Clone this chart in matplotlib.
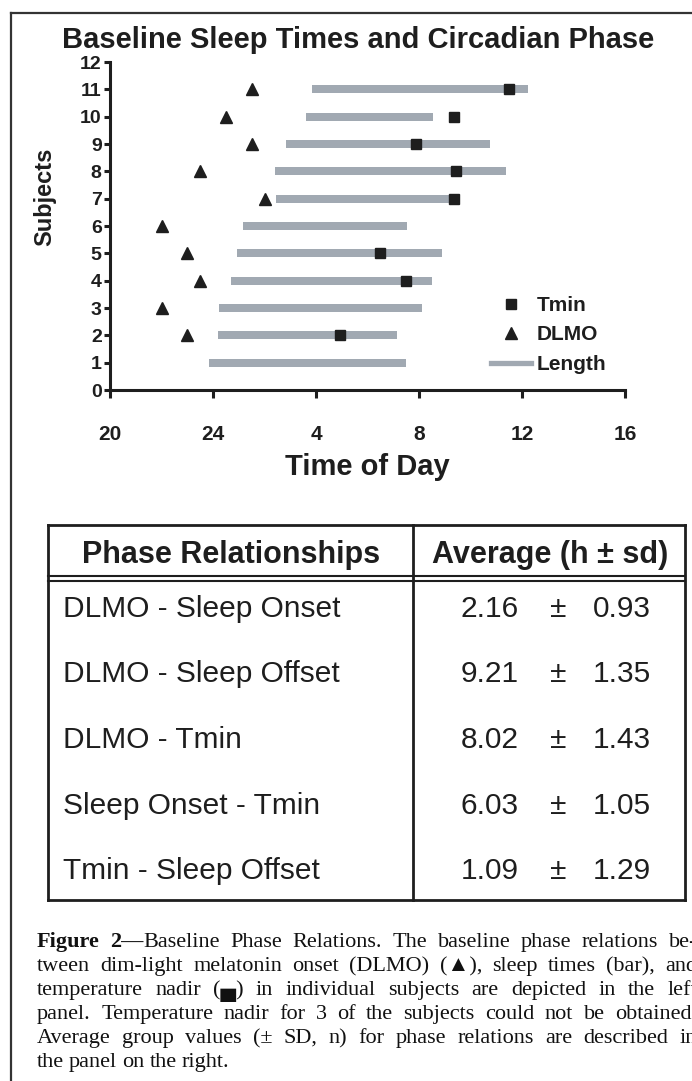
import numpy as np
import matplotlib.pyplot as plt
from matplotlib.lines import Line2D

plt.rcParams['font.family'] = ['Liberation Sans', 'DejaVu Sans']

# 数据 (小时, 24 = 午夜, 28 = 凌晨4点)
subjects = np.arange(1, 12)
dlmo = np.array([np.nan, 23.0, 22.0, 23.5, 23.0, 22.0, 26.0, 23.5, 25.5, 24.5, 25.5])
sleep_on = np.array([23.85, 24.2, 24.25, 24.7, 24.95, 25.17, 26.45, 26.4, 26.83, 27.6, 27.84])
sleep_off = np.array([31.5, 31.13, 32.1, 32.52, 32.9, 31.55, 33.45, 35.38, 34.76, 32.54, 36.23])
tmin = np.array([np.nan, 28.93, np.nan, 31.48, 30.47, np.nan, 33.36, 33.44, 31.88, 33.36, 35.5])

xticks = [20, 24, 28, 32, 36, 40]
xticklabels = ['20', '24', '4', '8', '12', '16']

# 表格数据
phase_names = ['DLMO - Sleep Onset', 'DLMO - Sleep Offset', 'DLMO - Tmin',
               'Sleep Onset - Tmin', 'Tmin - Sleep Offset']
phase_mean = ['2.16', '9.21', '8.02', '6.03', '1.09']
phase_sd = ['0.93', '1.35', '1.43', '1.05', '1.29']

caption_lines = [
    'Figure 2—Baseline Phase Relations. The baseline phase relations be-',
    'tween dim-light melatonin onset (DLMO) (▲), sleep times (bar), and',
    'temperature nadir (▄) in individual subjects are depicted in the left',
    'panel. Temperature nadir for 3 of the subjects could not be obtained.',
    'Average group values (± SD, n) for phase relations are described in',
    'the panel on the right.',
]

W, H = 692, 1081
dark = '#1e1e1e'
grey = '#a1a9b2'


def fx(x):
    return x / W


def fy(y):
    return 1 - y / H


fig = plt.figure(figsize=(W / 100, H / 100), dpi=100)

# 外框
fig.add_artist(Line2D([fx(11), fx(11)], [fy(13), 0], color='#333333', lw=1.6))
fig.add_artist(Line2D([fx(11), 1], [fy(13), fy(13)], color='#333333', lw=1.6))

# 图
ax = fig.add_axes([fx(110), fy(390), 515 / W, 328 / H])
ax.barh(subjects, sleep_off - sleep_on, left=sleep_on, height=0.3, color=grey, zorder=2)
ax.plot(dlmo, subjects, '^', color=dark, ms=9, ls='none', zorder=3)
ax.plot(tmin, subjects, 's', color=dark, ms=7.5, ls='none', zorder=3)

ax.set_xlim(20, 40)
ax.set_ylim(0, 12)
ax.set_xticks(xticks, xticklabels)
ax.set_yticks(range(13))
for s in ['top', 'right']:
    ax.spines[s].set_visible(False)
for s in ['left', 'bottom']:
    ax.spines[s].set_linewidth(2.2)
    ax.spines[s].set_color(dark)
ax.tick_params(axis='x', length=6, width=2.2, color=dark, pad=19, labelsize=15)
ax.tick_params(axis='y', length=4.5, width=2.2, color=dark, pad=1.5, labelsize=14)
for lab in ax.get_xticklabels() + ax.get_yticklabels():
    lab.set_fontweight('bold')
    lab.set_color(dark)

ax.set_xlabel('Time of Day', fontsize=21, fontweight='bold', color=dark)
ax.xaxis.set_label_coords(0.5, (390 - 467) / 328)
ax.xaxis.label.set_va('center')
ax.set_ylabel('Subjects', fontsize=17, fontweight='bold', color=dark)
ax.yaxis.set_label_coords((45 - 110) / 515, (390 - 197) / 328)
ax.yaxis.label.set_va('center')

fig.text(fx(358), fy(40), 'Baseline Sleep Times and Circadian Phase', ha='center', va='center',
         fontsize=21, fontweight='bold', color=dark)

handles = [Line2D([], [], marker='s', ls='none', color=dark, ms=7.5),
           Line2D([], [], marker='^', ls='none', color=dark, ms=9),
           Line2D([], [], color=grey, lw=3.8)]
leg = ax.legend(handles, ['Tmin', 'DLMO', 'Length'], loc='upper left',
                bbox_to_anchor=(fx(491), fy(296)), bbox_transform=fig.transFigure,
                frameon=False, borderpad=0, borderaxespad=0, handlelength=1.9,
                handletextpad=0.3, labelspacing=0.5, prop={'size': 15, 'weight': 'bold'})
for t in leg.get_texts():
    t.set_color(dark)

# 表格
tl, tr, tt, tb, tm = 48, 685, 525, 900, 413
for x0, y0, x1, y1 in [(tl, tt, tr, tt), (tl, tb, tr, tb), (tl, tt, tl, tb),
                       (tr, tt, tr, tb), (tm, tt, tm, tb)]:
    fig.add_artist(Line2D([fx(x0), fx(x1)], [fy(y0), fy(y1)], color=dark, lw=2.0))
for yy in [576, 580.5]:
    fig.add_artist(Line2D([fx(tl), fx(tr)], [fy(yy), fy(yy)], color=dark, lw=1.5))

fig.text(fx(231), fy(563), 'Phase Relationships', ha='center', va='baseline',
         fontsize=22, fontweight='bold', color=dark)
fig.text(fx(550), fy(563), 'Average (h ± sd)', ha='center', va='baseline',
         fontsize=22, fontweight='bold', color=dark)
for i, name in enumerate(phase_names):
    yb = 607 + i * 65.5 + 10
    fig.text(fx(63), fy(yb), name, ha='left', va='baseline', fontsize=21.5, color=dark)
    fig.text(fx(519), fy(yb), phase_mean[i], ha='right', va='baseline', fontsize=21.5, color=dark)
    fig.text(fx(558), fy(yb), '±', ha='center', va='baseline', fontsize=21.5, color=dark)
    fig.text(fx(593), fy(yb), phase_sd[i], ha='left', va='baseline', fontsize=21.5, color=dark)

# 图注 (两端对齐)
renderer = fig.canvas.get_renderer()
cap_font = ['Liberation Serif', 'DejaVu Sans']
x_left, x_right = 37, 697
for k, line in enumerate(caption_lines):
    yb = fy(947 + k * 24)
    words = line.split(' ')
    pieces = []
    for w in words:
        if w.startswith('2—'):
            parts = [('2—', 'bold'), (w[2:], 'normal')]
        elif w == 'Figure':
            parts = [(w, 'bold')]
        else:
            parts = [(w, 'normal')]
        objs = []
        for txt, wt in parts:
            objs.append(fig.text(0, yb, txt, fontsize=16, fontweight=wt,
                                 family=cap_font, color='#111111', va='baseline'))
        pieces.append(objs)
    widths = [sum(o.get_window_extent(renderer).width for o in objs) for objs in pieces]
    if k < len(caption_lines) - 1:
        gap = (x_right - x_left - sum(widths)) / (len(pieces) - 1)
    else:
        gap = 5.0
    x = x_left
    for objs in pieces:
        for o in objs:
            o.set_x(fx(x))
            x += o.get_window_extent(renderer).width
        x += gap

fig.savefig('out.png', dpi=100)
